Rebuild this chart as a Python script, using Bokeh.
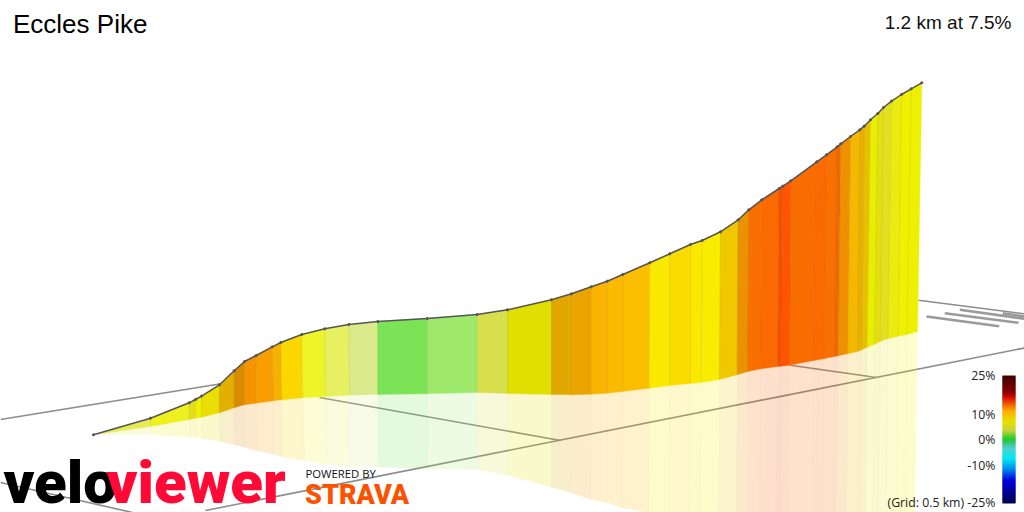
from bokeh.plotting import figure
from bokeh.embed import file_html
from bokeh.resources import INLINE
from bokeh.models import Range1d
from bokeh.core.properties import value

# ---- profile (screen-projected stations along the climb)
top_x = [93,150,188.7,195,201,219,233.7,244,255.7,271.7,280.3,301.3,324.3,348.3,377.3,426.7,476.7,507,551,571,590.7,606.7,622.3,649.3,669.3,690,701.7,720,737.7,748.3,761.3,778.7,782.3,790.3,816.3,826,836.7,840.3,850,859.3,863.7,870,877.3,883,891,901,910.7,921.3]
top_y = [434.3,417.7,402.3,399,395.7,384.3,370.3,361,355,346.3,342,334,328.3,324,321,318,314,309.3,299.3,293.3,286.3,280.7,274,262.3,253.3,244,240,231.3,219.3,209.3,199.3,188,185.7,180.3,161.3,154.3,146.3,143.3,136,129.3,125.7,119.3,113,107,100.7,94,88.3,82.3]
base_x = [93,150,188.7,195,201,219,233.7,244,255.7,272.7,281.3,302.3,325.3,349.3,377.3,426.7,476.7,507,551,571,590.7,606.7,622.3,648.7,669.3,690,700.7,719,736.7,747.3,760.3,777.3,781,789,813.3,823.3,834,837.7,847.3,857,861.3,866.7,874,879.7,887.3,897.7,906.3,917]
base_y = [434.3,426,419,417.7,416.7,412.3,407.3,404.3,402.7,400.3,399.3,397.3,396,394.7,394,393.3,392,393,394,394.3,393.7,392.7,391,387.7,385,383,382,379,374.3,371,368.3,366,365.7,364.7,360,358.3,356,355.3,353.3,351,349.3,346.7,344,341,338.3,335.7,334,331]
refl_x = [93,150,189,196,202,220,234,245,256.7,273.3,281.7,304,326,349,378,427,477,507.3,551,570,590,606.7,621,648,668,689,699.5,718,735.7,746.7,759,775,779,787,811.7,821.7,832,835,846,856.7,860,865,871.7,876.7,885,895,904,914]
refl_y = [434.3,434.3,436.7,437.3,438,441,444.3,447.3,450.3,454,456.3,460.3,463.7,465.7,466.7,468.3,469.3,475,487,492,499,502.3,507.3,512,516,520,522,526,530,533,536,540,541,542,546,548,550,551,553,555,556,557,559,560,562,564,566,568]

segment_colours = ["#e6ea55","#eef020","#e6dc18","#eef000","#eadf00","#e2b000","#d98a00","#f59300","#f89e00","#f5b000","#fbd700","#eff428","#e6f060","#dbea8a","#7ce356","#9ee96c","#d7e04c","#e0df00","#e0a800","#eba400","#f9b400","#fbb900","#fbbf00","#f9e800","#fadc00","#fbe800","#f8ec00","#f0c800","#ea9200","#f97000","#fb6a00","#f45000","#ff5500","#f86c00","#fb6a00","#f87000","#f06800","#f09000","#f5b800","#e8b000","#e8c000","#e9ee00","#e2e010","#e2e020","#eaeb10","#f0f000","#eef000"]

# ---- ground grid and road traces
grid_xs = [[0,222],[319,560],[790,876],[205,1024],[0,132],[918,1024]]
grid_ys = [[419,383],[397,440],[364.7,377],[510,347.5],[482,512],[299.7,313.3]]
road_xs = [[926,998.7],[944.3,1018],[959.3,1023.7],[1002.3,1024]]
road_ys = [[316,325.7],[312.7,322.3],[309.3,318.3],[312.7,316]]

# ---- gradient key
key_labels = ["25%","10%","0%","-10%","(Grid: 0.5 km) -25%"]
key_label_y = [374.5,413.5,438.5,464.5,502]
key_stop_y = [375,392,396,404,411,421,430,438,441,448,458,468,480,490,502]
key_stop_colours = ["#3d0000","#8a0000","#d40000","#f06000","#ffb000","#e8e000","#c8d040","#20d020","#30c060","#50d0d0","#00e8f0","#0090f0","#0000e0","#0000a0","#000050"]

title = "Eccles Pike"
summary = "1.2 km at 7.5%"

SANS = value("Liberation Sans")
OPEN = value("Open Sans")
HEAVY = value("Roboto Black")

p = figure(width=1024, height=512, output_backend="svg", toolbar_location=None,
           x_range=Range1d(0,1024), y_range=Range1d(512,0), min_border=0)
p.axis.visible = False
p.grid.visible = False
p.outline_line_color = None

p.multi_line(grid_xs, grid_ys, line_color="#8c8c8c", line_width=1.6)
p.multi_line(road_xs, road_ys, line_color="#9a9a9a", line_width=2.6)

n = len(segment_colours)
p.patches([[base_x[i],base_x[i+1],refl_x[i+1],refl_x[i]] for i in range(n)],
          [[base_y[i],base_y[i+1],refl_y[i+1],refl_y[i]] for i in range(n)],
          fill_color=segment_colours, fill_alpha=0.2, line_color=None)
p.multi_line([[base_x[i],refl_x[i]] for i in range(1,n)], [[base_y[i],refl_y[i]] for i in range(1,n)],
             line_color="#000000", line_alpha=0.02, line_width=1)
p.patches([[top_x[i],top_x[i+1],base_x[i+1],base_x[i]] for i in range(n)],
          [[top_y[i],top_y[i+1],base_y[i+1],base_y[i]] for i in range(n)],
          fill_color=segment_colours, line_color=segment_colours, line_width=0.4)
p.multi_line([[top_x[i],base_x[i]] for i in range(1,n)], [[top_y[i],base_y[i]] for i in range(1,n)],
             line_color="#000000", line_alpha=0.07, line_width=1)
p.line(top_x, top_y, line_color="#555555", line_width=1.5)
p.scatter(top_x, top_y, size=2.2, color="#555555")

def hex2rgb(h): return [int(h[i:i+2],16) for i in (1,3,5)]
key_top, key_bot, key_col = [], [], []
for a,b,c1,c2 in zip(key_stop_y, key_stop_y[1:], key_stop_colours, key_stop_colours[1:]):
    steps = max(1, int(b-a))
    r1, r2 = hex2rgb(c1), hex2rgb(c2)
    for s in range(steps):
        t = (s+0.5)/steps
        key_top.append(a+(b-a)*s/steps)
        key_bot.append(a+(b-a)*(s+1)/steps+1)
        key_col.append("#%02x%02x%02x" % tuple(round(u+(v-u)*t) for u,v in zip(r1,r2)))
p.quad(left=1002, right=1015, top=key_top, bottom=key_bot, fill_color=key_col, fill_alpha=1.0, line_color=None)
p.text([995]*5, key_label_y, text=key_labels, text_font=OPEN, text_font_size="12.3px",
       text_color="#222222", text_align="right", text_baseline="middle")

p.text([12.5],[23],text=[title],text_font=SANS,text_font_size="26px",text_color="#000000",text_baseline="middle")
p.text([1011],[22],text=[summary],text_font=SANS,text_font_size="19px",text_color="#111111",text_align="right",text_baseline="middle")

p.text([3],[482],text=["velo"],text_font=HEAVY,text_font_size="60px",text_color="#000000",text_baseline="middle")
p.text([106],[482],text=["viewer"],text_font=HEAVY,text_font_size="60px",text_color="#ff0a37",text_baseline="middle")
p.text([305],[473],text=["POWERED BY"],text_font=OPEN,text_font_size="11.3px",text_color="#111111",text_baseline="middle")
p.text([304.5],[494],text=["STRAVA"],text_font=HEAVY,text_font_size="27px",text_color="#fc5200",text_baseline="middle")

open("out.html","w").write(file_html(p, INLINE))
